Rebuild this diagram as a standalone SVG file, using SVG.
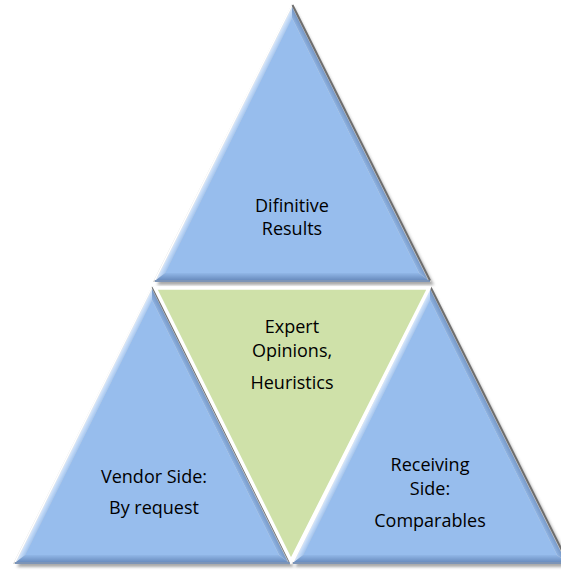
<svg xmlns="http://www.w3.org/2000/svg" xmlns:xlink="http://www.w3.org/1999/xlink" width="561" height="573" viewBox="0 0 561 573">
  <style>
    .label { font-family: "Open Sans", "Liberation Sans", sans-serif; font-size: 18px; fill: #000; text-anchor: middle; }
    .face { fill: #97BDED; }
    .rim { fill: #d4d4d4; }
    .hi { stroke: #ffffff; stroke-width: 1.6; fill: none; }
    .lo { stroke: #6e6e6e; stroke-width: 2; fill: none; }
    .center { fill: #CFE1A9; stroke: #ffffff; stroke-width: 3.5; stroke-linejoin: miter; }
  </style>
  <defs>
    <filter id="drop" x="-10%" y="-10%" width="120%" height="125%">
      <feGaussianBlur stdDeviation="1.6"/>
    </filter>
    <!-- bevel bands, in the tile's own coordinates (apex at 0,0) -->
    <linearGradient id="bevL" gradientUnits="userSpaceOnUse" x1="-68" y1="138" x2="-62" y2="141">
      <stop offset="0" stop-color="#D9E8FB"/>
      <stop offset="1" stop-color="#97BDED"/>
    </linearGradient>
    <linearGradient id="bevR" gradientUnits="userSpaceOnUse" x1="68" y1="138" x2="62" y2="141">
      <stop offset="0" stop-color="#7596C4"/>
      <stop offset="1" stop-color="#97BDED"/>
    </linearGradient>
    <linearGradient id="bevB" gradientUnits="userSpaceOnUse" x1="0" y1="267" x2="0" y2="275">
      <stop offset="0" stop-color="#97BDED"/>
      <stop offset="1" stop-color="#6A8DBF"/>
    </linearGradient>
    <!-- bevelled blue triangle tile: apex (0,0), base at y=276, half width 138 -->
    <g id="tile">
      <polygon points="2,2 -135,280 142,280" fill="#8a8a8a" opacity="0.75" filter="url(#drop)"/>
      <polygon class="rim" points="0,-1 -139,277 139,277"/>
      <polygon points="0,2 -136,275 -127,268 0,13" fill="url(#bevL)"/>
      <polygon points="0,2 136,275 127,268 0,13" fill="url(#bevR)"/>
      <polygon points="-136,275 136,275 127,268 -127,268" fill="url(#bevB)"/>
      <polygon class="face" points="0,13 -127,268 127,268"/>
      <line class="hi" x1="0" y1="0" x2="-137" y2="275"/>
      <line class="lo" x1="0.5" y1="0" x2="138" y2="275.5"/>
      <line x1="-137" y1="276" x2="138" y2="276" stroke="#5f7fae" stroke-width="1.5"/>
    </g>
  </defs>

  <g id="node-definitive">
    <use xlink:href="#tile" href="#tile" transform="translate(292,5)"/>
    <text class="label" x="292" y="212">Difinitive</text>
    <text class="label" x="292" y="235">Results</text>
  </g>

  <g id="node-vendor">
    <use xlink:href="#tile" href="#tile" transform="translate(152,287)"/>
    <text class="label" x="154" y="483">Vendor Side:</text>
    <text class="label" x="154" y="514">By request</text>
  </g>

  <g id="node-receiving">
    <use xlink:href="#tile" href="#tile" transform="translate(430,287)"/>
    <text class="label" x="430" y="471">Receiving</text>
    <text class="label" x="430" y="495">Side:</text>
    <text class="label" x="430" y="527">Comparables</text>
  </g>

  <g id="node-expert">
    <polygon class="center" points="155,288 429,288 291,561"/>
    <text class="label" x="292" y="333">Expert</text>
    <text class="label" x="292" y="357">Opinions,</text>
    <text class="label" x="292" y="389">Heuristics</text>
  </g>
</svg>
